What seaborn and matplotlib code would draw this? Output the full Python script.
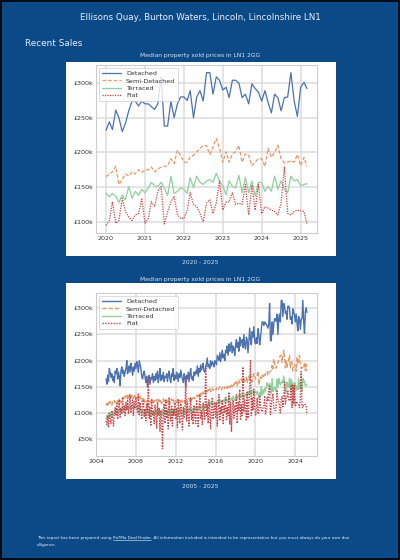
import numpy as np
import pandas as pd
import matplotlib
matplotlib.use("Agg")
import matplotlib.pyplot as plt
import matplotlib.dates as mdates
from matplotlib.patches import Rectangle
from matplotlib.ticker import FuncFormatter
import seaborn as sns

# ---------------- data (median prices, £k) ----------------
types = ["Detached", "Semi-Detached", "Terraced", "Flat"]

# Jan 2020 - Mar 2025
recent_detached = [232, 244, 233, 261, 250, 230, 242, 260, 274, 274, 267, 274,
                   270, 270, 266, 262, 270, 309, 238, 238, 274, 250, 270, 280,
                   280, 275, 289, 250, 280, 289, 274, 315, 315, 284, 309, 304,
                   290, 294, 279, 304, 304, 300, 279, 284, 270, 299, 292, 287,
                   274, 289, 272, 257, 284, 279, 260, 279, 280, 315, 274, 252,
                   294, 301, 292]
recent_semi = [165, 169, 172, 180, 154, 161, 169, 166, 172, 169, 175, 171,
               175, 175, 179, 172, 176, 179, 180, 181, 191, 184, 203, 196,
               186, 186, 193, 196, 201, 206, 210, 210, 197, 208, 220, 206,
               186, 201, 186, 198, 201, 210, 186, 198, 196, 181, 186, 191,
               191, 180, 206, 193, 200, 210, 191, 185, 186, 188, 186, 197,
               181, 193, 180]
recent_terraced = [141, 136, 141, 137, 128, 139, 132, 151, 134, 144, 138, 147,
                   142, 149, 157, 152, 151, 157, 149, 138, 166, 141, 144, 149,
                   147, 141, 164, 149, 166, 157, 154, 159, 161, 157, 170, 159,
                   152, 139, 159, 151, 149, 167, 142, 164, 142, 159, 137, 157,
                   157, 144, 151, 144, 166, 147, 159, 147, 142, 166, 159, 161,
                   152, 154, 155]
recent_flat = [95, 102, 129, 98, 102, 134, 115, 107, 102, 110, 112, 133,
               98, 105, 129, 122, 144, 151, 97, 115, 129, 137, 110, 105,
               105, 117, 142, 125, 122, 112, 100, 127, 132, 112, 127, 159,
               117, 129, 129, 142, 125, 127, 125, 154, 110, 153, 117, 154,
               112, 122, 120, 117, 115, 110, 127, 179, 112, 110, 115, 117,
               116, 115, 97]

# Jan 2005 - Dec 2019
hist_detached = [165, 155, 172, 160, 185, 178, 168, 175, 162, 170, 158, 180,
                 175, 185, 165, 178, 170, 152, 180, 188, 175, 182, 170, 178,
                 185, 200, 175, 182, 190, 178, 195, 185, 172, 188, 180, 195,
                 185, 198, 190, 178, 200, 192, 185, 170, 165, 175, 180, 168,
                 158, 170, 150, 162, 172, 155, 168, 165, 175, 158, 170, 162,
                 175, 165, 180, 158, 170, 185, 162, 172, 165, 178, 160, 170,
                 168, 175, 160, 172, 180, 165, 158, 175, 170, 185, 162, 172,
                 165, 178, 170, 160, 175, 168, 182, 172, 165, 158, 175, 168,
                 150, 172, 165, 178, 160, 175, 185, 165, 170, 162, 178, 172,
                 180, 175, 190, 170, 185, 178, 192, 182, 188, 195, 180, 178,
                 185, 195, 205, 188, 192, 185, 200, 190, 198, 195, 188, 200,
                 198, 192, 210, 205, 200, 215, 198, 210, 220, 205, 212, 200,
                 220, 215, 228, 210, 232, 218, 225, 235, 215, 228, 222, 210,
                 230, 240, 225, 235, 218, 245, 228, 238, 240, 225, 250, 230,
                 222, 245, 240, 215, 235, 262, 240, 230, 255, 245, 265, 238]
hist_semi = [115, 118, 112, 120, 116, 122, 118, 115, 121, 119, 124, 120,
             122, 118, 125, 121, 128, 124, 120, 126, 130, 125, 128, 132,
             128, 134, 130, 127, 135, 132, 129, 136, 131, 128, 134, 130,
             133, 127, 130, 135, 125, 131, 128, 122, 126, 130, 124, 120,
             118, 122, 125, 115, 120, 123, 119, 126, 121, 117, 124, 120,
             122, 126, 119, 124, 128, 121, 125, 118, 123, 127, 120, 124,
             121, 125, 120, 126, 122, 118, 124, 127, 121, 125, 119, 123,
             124, 120, 126, 122, 125, 119, 127, 123, 121, 126, 124, 120,
             122, 126, 121, 125, 128, 123, 127, 124, 129, 126, 130, 128,
             127, 131, 134, 129, 136, 132, 138, 135, 133, 140, 137, 142,
             139, 143, 140, 145, 142, 146, 141, 144, 147, 143, 146, 145,
             144, 148, 145, 143, 147, 150, 146, 144, 149, 147, 145, 150,
             148, 151, 147, 153, 150, 148, 155, 152, 150, 156, 153, 158,
             155, 160, 152, 158, 163, 157, 160, 165, 158, 162, 168, 160,
             162, 168, 158, 165, 170, 164, 172, 166, 160, 168, 175, 170]
hist_terraced = [88, 95, 90, 98, 92, 100, 96, 93, 101, 97, 99, 104,
                 102, 105, 100, 107, 104, 108, 106, 103, 109, 107, 110, 106,
                 108, 111, 107, 112, 109, 113, 110, 108, 114, 111, 109, 112,
                 110, 113, 108, 111, 106, 109, 104, 100, 106, 98, 103, 96,
                 100, 94, 102, 97, 105, 92, 99, 103, 95, 101, 97, 104,
                 98, 106, 93, 101, 108, 96, 103, 99, 107, 94, 102, 98,
                 105, 97, 103, 110, 95, 101, 107, 99, 104, 96, 108, 102,
                 99, 106, 101, 95, 104, 108, 100, 97, 105, 102, 109, 103,
                 98, 105, 101, 108, 103, 110, 104, 107, 102, 109, 105, 111,
                 106, 110, 104, 112, 108, 114, 109, 113, 107, 115, 110, 112,
                 114, 118, 112, 120, 116, 113, 119, 122, 117, 115, 121, 118,
                 120, 116, 124, 119, 122, 126, 118, 123, 120, 125, 121, 127,
                 122, 128, 124, 120, 130, 126, 123, 129, 125, 132, 127, 124,
                 128, 133, 126, 131, 135, 129, 134, 130, 137, 132, 128, 135,
                 133, 138, 130, 140, 135, 142, 137, 134, 144, 139, 136, 141]
hist_flat = [85, 78, 95, 72, 100, 88, 80, 105, 92, 75, 98, 110,
             95, 118, 88, 105, 125, 92, 110, 98, 130, 102, 115, 95,
             120, 105, 128, 98, 112, 135, 100, 118, 125, 95, 122, 108,
             130, 110, 100, 138, 95, 120, 105, 88, 115, 125, 92, 108,
             85, 118, 100, 165, 90, 110, 75, 125, 95, 105, 80, 115,
             100, 70, 120, 95, 110, 65, 105, 88, 32, 95, 118, 80,
             125, 90, 105, 70, 130, 98, 85, 115, 75, 108, 95, 120,
             88, 110, 72, 125, 95, 80, 118, 100, 68, 112, 92, 105,
             170, 85, 120, 95, 75, 110, 130, 88, 102, 78, 115, 95,
             80, 125, 98, 72, 110, 135, 90, 105, 78, 120, 100, 88,
             190, 95, 115, 80, 125, 100, 70, 110, 130, 88, 105, 118,
             92, 120, 75, 108, 135, 85, 112, 98, 125, 80, 115, 100,
             130, 85, 110, 95, 140, 78, 120, 64, 105, 125, 90, 115,
             100, 135, 80, 120, 105, 145, 88, 115, 95, 188, 102, 125,
             110, 85, 140, 90, 120, 150, 200, 95, 130, 105, 145, 115]

title_text = "Ellisons Quay, Burton Waters, Lincoln, Lincolnshire LN1"
section_text = "Recent Sales"
chart_title = "Median property sold prices in LN1 2GG"
captions = ["2020 - 2025", "2005 - 2025"]


def long_frame(start, series):
    n = len(series[0])
    dates = pd.date_range(start, periods=n, freq="MS")
    frames = []
    for name, vals in zip(types, series):
        frames.append(pd.DataFrame({"date": dates, "price": vals, "type": name}))
    return pd.concat(frames, ignore_index=True)


df_recent = long_frame("2020-01-01", [recent_detached, recent_semi,
                                      recent_terraced, recent_flat])
df_long = long_frame("2005-01-01", [hist_detached + recent_detached,
                                    hist_semi + recent_semi,
                                    hist_terraced + recent_terraced,
                                    hist_flat + recent_flat])

# ---------------- figure ----------------
sns.set_theme(style="whitegrid", palette="deep")
plt.rcParams["font.family"] = ["DejaVu Sans"]

palette = {"Detached": "#4c72b0", "Semi-Detached": "#e39a6c",
           "Terraced": "#92cf9e", "Flat": "#c8474b"}
dashes = {"Detached": "", "Semi-Detached": (3, 1.5), "Terraced": "",
          "Flat": (1, 1)}

BG = "#0b4a87"
fig = plt.figure(figsize=(4, 5.6), dpi=100, facecolor=BG)

fig.patches.append(Rectangle((0.0015, 0.001), 0.997, 0.998, transform=fig.transFigure,
                             facecolor="none", edgecolor="black", linewidth=1.2,
                             zorder=5))
fig.text(0.5, 1 - 17 / 560, title_text, ha="center", va="center",
         color="#e8f0fa", fontsize=6.3)
fig.text(25 / 400, 1 - 43 / 560, section_text, ha="left", va="center",
         color="#e8f0fa", fontsize=6.4)

panels = [(66, 62, 336, 256), (66, 283, 336, 479)]
axes_px = [(96, 65, 317, 233), (96, 293, 317, 456)]
title_y = [56, 280]
caption_y = [262, 486]
frames = [df_recent, df_long]
lws = [0.9, 1.0]

fmt = FuncFormatter(lambda v, p: f"£{v:.0f}k")

for i in range(2):
    x0, y0, x1, y1 = panels[i]
    fig.patches.append(Rectangle((x0 / 400, 1 - y1 / 560), (x1 - x0) / 400,
                                 (y1 - y0) / 560, transform=fig.transFigure,
                                 facecolor="white", edgecolor="none", zorder=-10))
    ax0, ay0, ax1, ay1 = axes_px[i]
    ax = fig.add_axes([ax0 / 400, 1 - ay1 / 560, (ax1 - ax0) / 400, (ay1 - ay0) / 560])
    ax.set_zorder(2)
    sns.lineplot(data=frames[i], x="date", y="price", hue="type", style="type",
                 palette=palette, dashes=dashes, ax=ax, linewidth=lws[i])
    ax.set_xlabel("")
    ax.set_ylabel("")
    ax.yaxis.set_major_formatter(fmt)
    ax.tick_params(labelsize=4.6, colors="#333333", pad=2, length=0)
    ax.grid(True, color="#dddddd", linewidth=1.1)
    for s in ax.spines.values():
        s.set_color("#cccccc")
        s.set_linewidth(0.8)
    if i == 0:
        ax.xaxis.set_major_locator(mdates.YearLocator(1))
    else:
        ax.xaxis.set_major_locator(mdates.YearLocator(4))
    ax.xaxis.set_major_formatter(mdates.DateFormatter("%Y"))
    leg = ax.legend(loc="upper left", fontsize=4.6, frameon=True, handlelength=3.0,
                    borderpad=0.4, labelspacing=0.3, handletextpad=0.8)
    leg.get_frame().set_linewidth(0.6)
    for t in leg.get_texts():
        t.set_color("#333333")
    fig.text(0.5, 1 - title_y[i] / 560, chart_title, ha="center", va="center",
             color="#d8e6f5", fontsize=4.3)
    fig.text(0.5, 1 - caption_y[i] / 560, captions[i], ha="center", va="center",
             color="#cfe2f7", fontsize=4.3)

# ---------------- footer ----------------
renderer = fig.canvas.get_renderer()
fy1 = 1 - 538 / 560
fy2 = 1 - 545 / 560
fs = 2.95
col = "#e8f0fa"
t1 = fig.text(37 / 400, fy1, "This report has been prepared using ", ha="left",
              va="center", color=col, fontsize=fs)
bb1 = t1.get_window_extent(renderer).transformed(fig.transFigure.inverted())
t2 = fig.text(bb1.x1, fy1, "PaTMa Deal Finder", ha="left", va="center",
              color=col, fontsize=fs)
bb2 = t2.get_window_extent(renderer).transformed(fig.transFigure.inverted())
fig.add_artist(plt.Line2D([bb2.x0, bb2.x1], [bb2.y0 + 0.0003, bb2.y0 + 0.0003],
                          transform=fig.transFigure, color=col, linewidth=0.4))
fig.text(bb2.x1, fy1, ". All information included is intended to be representative "
         "but you must always do your own due", ha="left", va="center",
         color=col, fontsize=fs)
fig.text(37 / 400, fy2, "diligence.", ha="left", va="center", color=col, fontsize=fs)

fig.savefig("out.png", dpi=100, facecolor=BG)
